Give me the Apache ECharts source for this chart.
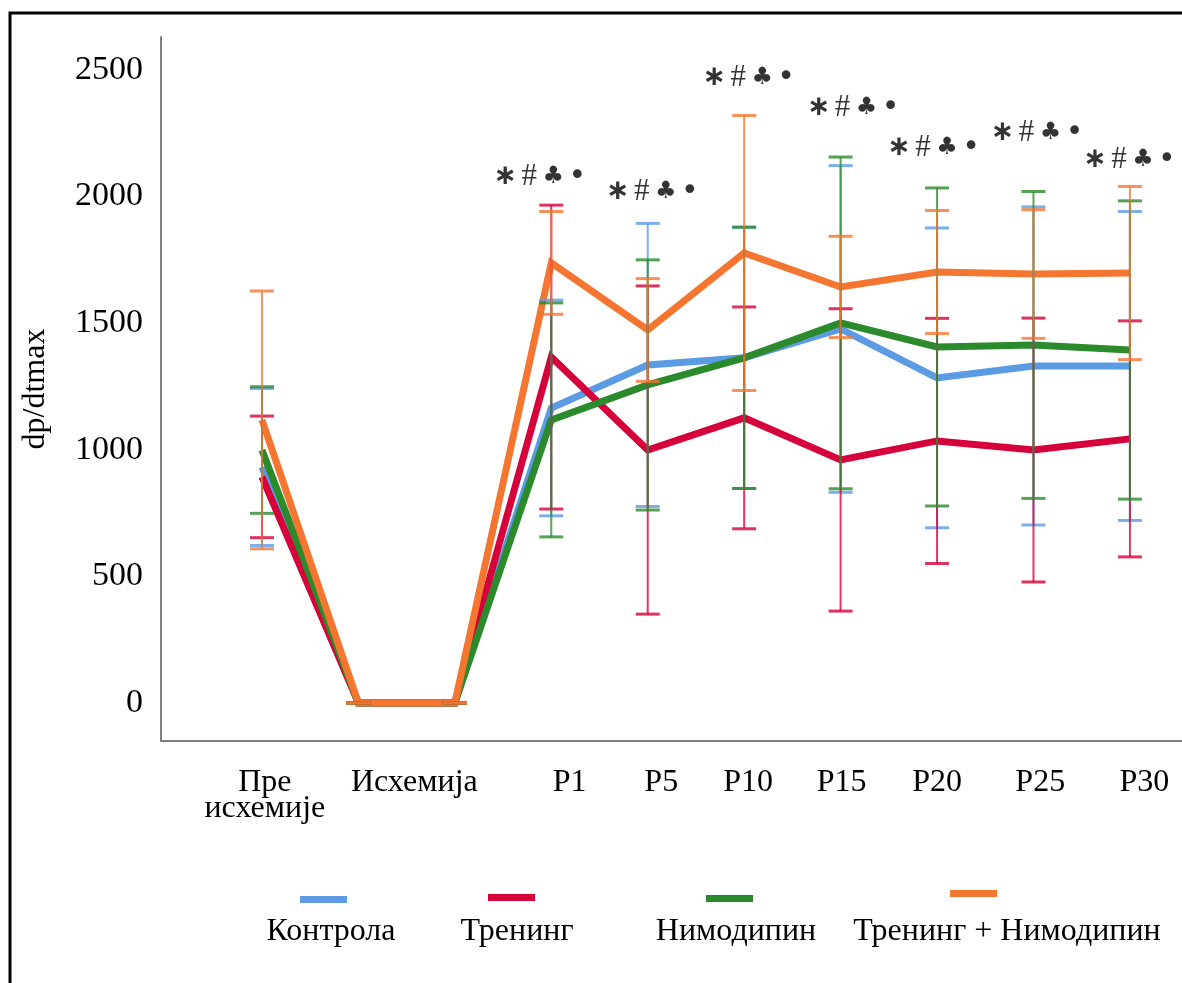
<!DOCTYPE html>
<html>
<head>
<meta charset="utf-8">
<script src="https://cdn.jsdelivr.net/npm/echarts@6/dist/echarts.min.js"></script>
<style>
  html, body { margin: 0; padding: 0; background: #ffffff; }
  #chart { width: 1182px; height: 983px; }
</style>
</head>
<body>
<div id="chart"></div>
<script>
// Measurement slots along the time axis: before ischemia, ischemia (start, end), reperfusion minutes
const slots = [0, 1, 2, 3, 4, 5, 6, 7, 8, 9];

// Time-axis labels and where they sit on the slot scale
const tickLabels = ['Пре\nисхемије', 'Исхемија', 'P1', 'P5', 'P10', 'P15', 'P20', 'P25', 'P30'];
const tickAt = [0.03, 1.58, 3.19, 4.14, 5.04, 6.01, 7.0, 8.07, 9.15];

// Value-axis labels
const yTicks = [0, 500, 1000, 1500, 2000, 2500];

// Groups
const groupNames = ['Контрола', 'Тренинг', 'Нимодипин', 'Тренинг + Нимодипин'];

// dp/dtmax mean and SD per slot
const controlMean = [932, 0, 0, 1165, 1335, 1363, 1477, 1284, 1331, 1331];
const controlSd   = [310, 0, 0, 426, 559, 516, 645, 592, 628, 610];

const trainingMean = [893, 0, 0, 1366, 999, 1126, 960, 1035, 999, 1043];
const trainingSd   = [240, 0, 0, 600, 648, 438, 597, 484, 521, 466];

const nimodipineMean = [999, 0, 0, 1118, 1256, 1363, 1501, 1406, 1414, 1394];
const nimodipineSd   = [250, 0, 0, 462, 494, 516, 655, 628, 606, 589];

const comboMean = [1118, 0, 0, 1738, 1473, 1777, 1643, 1702, 1694, 1698];
const comboSd   = [509, 0, 0, 203, 203, 543, 200, 243, 254, 342];

// Significance markers above the reperfusion points
const markSymbols = ['∗', '#', '♣', '•'];
const markSlots = [3, 4, 5, 6, 7, 8, 9];
const markLevel = [2077, 2018, 2468, 2350, 2192, 2251, 2145];

// ---------------------------------------------------------------------------
const FONT = "'Liberation Serif', 'Times New Roman', serif";
const SYM_FONT = "'DejaVu Sans', sans-serif";
const INK = '#000';
const colors = ['#5b9be3', '#d6003a', '#2b8a2b', '#f47630'];
const means = [controlMean, trainingMean, nimodipineMean, comboMean];
const sds = [controlSd, trainingSd, nimodipineSd, comboSd];
const markNudge = [-10, 6, 6, 14, -2, 5, 1];

const chart = echarts.init(document.getElementById('chart'), null, { renderer: 'canvas' });

function errorBarRenderer(color) {
  return function (params, api) {
    const x = api.value(0);
    const lo = api.coord([x, api.value(1)]);
    const hi = api.coord([x, api.value(2)]);
    const half = 12;
    const st = { stroke: color, lineWidth: 2, opacity: 0.78 };
    const cap = { stroke: color, lineWidth: 3, opacity: 0.8 };
    return {
      type: 'group',
      children: [
        { type: 'line', shape: { x1: lo[0], y1: lo[1], x2: hi[0], y2: hi[1] }, style: st },
        { type: 'line', shape: { x1: lo[0] - half, y1: lo[1], x2: lo[0] + half, y2: lo[1] }, style: cap },
        { type: 'line', shape: { x1: hi[0] - half, y1: hi[1], x2: hi[0] + half, y2: hi[1] }, style: cap }
      ]
    };
  };
}

const series = [];
groupNames.forEach(function (name, g) {
  series.push({
    name: name,
    type: 'line',
    data: slots.map(function (x, i) { return [x, means[g][i]]; }),
    symbol: 'none',
    lineStyle: { width: 7, color: colors[g], join: 'miter' },
    itemStyle: { color: colors[g] },
    z: 2 + g,
    silent: true
  });
});
groupNames.forEach(function (name, g) {
  series.push({
    name: name,
    type: 'custom',
    renderItem: errorBarRenderer(colors[g]),
    data: slots.map(function (x, i) { return [x, means[g][i] - sds[g][i], means[g][i] + sds[g][i]]; }),
    encode: { x: 0, y: [1, 2] },
    z: 10,
    silent: true
  });
});

// each marker symbol sits in its own fixed-width cell
const cell = { width: 24, align: 'center', color: INK, verticalAlign: 'middle', lineHeight: 30 };
series.push({
  type: 'scatter',
  data: markSlots.map(function (x, i) {
    return { value: [x, markLevel[i]], label: { offset: [markNudge[i], 0] } };
  }),
  symbol: 'circle',
  symbolSize: 1,
  itemStyle: { color: 'rgba(0,0,0,0)' },
  label: {
    show: true,
    position: 'inside',
    formatter: '{s|' + markSymbols[0] + '}{h|' + markSymbols[1] + '}{c|' + markSymbols[2] + '}{d|' + markSymbols[3] + '}',
    color: INK,
    rich: {
      s: Object.assign({}, cell, { fontFamily: SYM_FONT, fontWeight: 'bold', fontSize: 28 }),
      h: Object.assign({}, cell, { fontFamily: FONT, fontSize: 31 }),
      c: Object.assign({}, cell, { fontFamily: SYM_FONT, fontSize: 24 }),
      d: Object.assign({}, cell, { fontFamily: SYM_FONT, fontSize: 30 })
    }
  },
  z: 20,
  silent: true
});

const legendLeft = [300, 488, 706, 950];
const legendTop = [896, 894, 895, 890];
const legendTextX = [331, 517, 736, 1007];

const option = {
  backgroundColor: '#ffffff',
  animation: false,
  grid: { left: 161, right: 0, top: 37, bottom: 242, containLabel: false },
  xAxis: {
    type: 'value',
    min: -1.047,
    max: 9.54,
    splitLine: { show: false },
    axisTick: { show: false },
    axisLine: { show: true, onZero: false, lineStyle: { color: '#808080', width: 2 } },
    axisLabel: {
      show: true,
      customValues: tickAt,
      formatter: function (v) {
        const k = tickAt.indexOf(v);
        return k >= 0 ? tickLabels[k] : '';
      },
      margin: 29,
      color: INK,
      fontFamily: FONT,
      fontSize: 32,
      lineHeight: 26
    }
  },
  yAxis: {
    type: 'value',
    min: -150,
    max: 2630,
    name: 'dp/dtmax',
    nameLocation: 'middle',
    nameGap: 109,
    nameTextStyle: { color: INK, fontFamily: FONT, fontSize: 32 },
    splitLine: { show: false },
    axisTick: { show: false },
    axisLine: { show: true, onZero: false, lineStyle: { color: '#808080', width: 2 } },
    axisLabel: {
      customValues: yTicks,
      formatter: function (v) { return String(v); },
      margin: 18,
      color: INK,
      fontFamily: FONT,
      fontSize: 34
    }
  },
  legend: groupNames.map(function (name, g) {
    return {
      data: [name],
      left: legendLeft[g],
      top: legendTop[g],
      icon: 'rect',
      itemWidth: 47,
      itemHeight: 7,
      padding: 0,
      itemGap: 0,
      selectedMode: false,
      formatter: function () { return ''; },
      textStyle: { fontSize: 7, lineHeight: 7 }
    };
  }),
  graphic: [
    {
      type: 'rect',
      silent: true,
      z: -10,
      shape: { x: 10, y: 13, width: 1400, height: 1200 },
      style: { fill: 'none', stroke: '#000', lineWidth: 3 }
    }
  ].concat(groupNames.map(function (name, g) {
    return {
      type: 'text',
      silent: true,
      x: legendTextX[g],
      y: 932,
      style: {
        text: name,
        font: '32px ' + FONT,
        fill: INK,
        align: 'center',
        verticalAlign: 'middle'
      }
    };
  })),
  series: series
};

chart.setOption(option);
</script>
</body>
</html>
